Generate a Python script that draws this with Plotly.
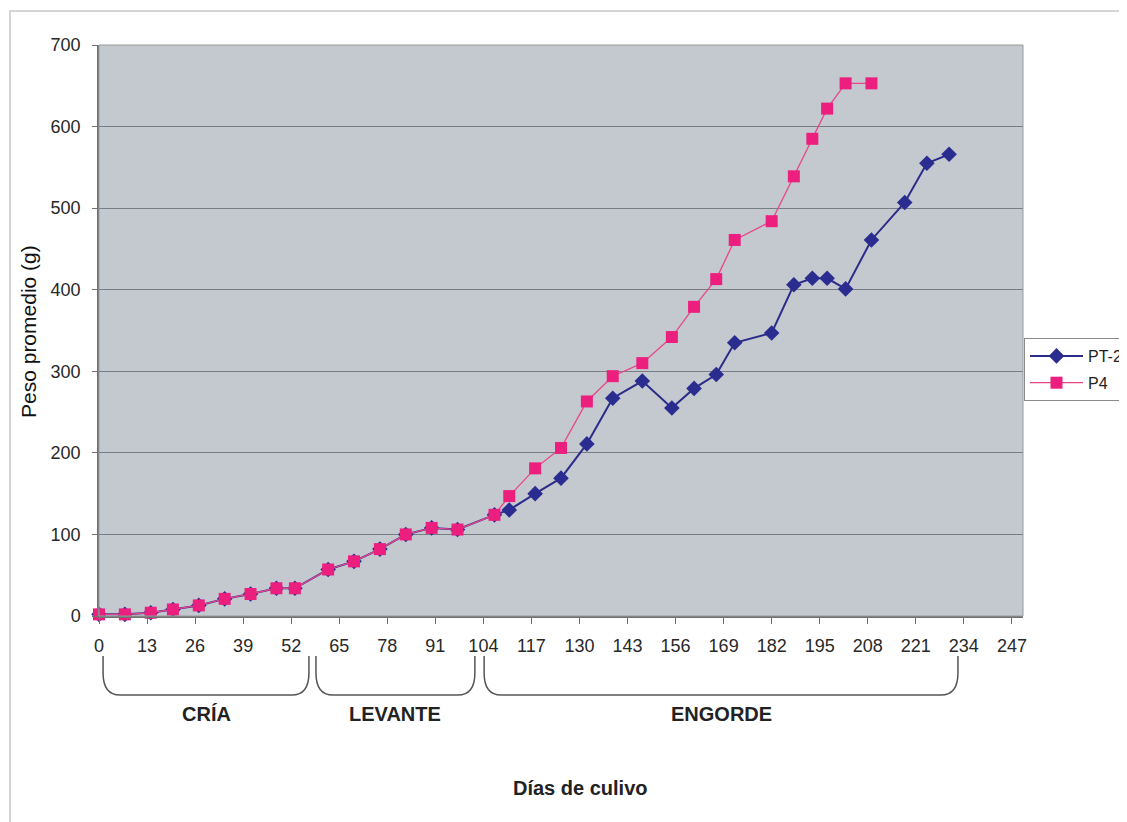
import plotly.graph_objects as go

# ---------------- data ----------------
dias_p4 = [0, 7, 14, 20, 27, 34, 41, 48, 53, 62, 69, 76, 83, 90, 97, 107, 111, 118, 125,
           132, 139, 147, 155, 161, 167, 172, 182, 188, 193, 197, 202, 209]
peso_p4 = [2, 2, 4, 8, 13, 21, 27, 34, 34, 57, 67, 82, 100, 108, 106, 124, 147, 181, 206,
           263, 294, 310, 342, 379, 413, 461, 484, 539, 585, 622, 653, 653]

dias_pt2 = [0, 7, 14, 20, 27, 34, 41, 48, 53, 62, 69, 76, 83, 90, 97, 107, 111, 118, 125,
            132, 139, 147, 155, 161, 167, 172, 182, 188, 193, 197, 202, 209, 218, 224, 230]
peso_pt2 = [2, 2, 4, 8, 13, 21, 27, 34, 34, 57, 67, 82, 100, 108, 106, 124, 130, 150, 169,
            211, 267, 288, 255, 279, 296, 335, 347, 406, 414, 414, 401, 461, 507, 555, 566]

x_ticks = list(range(0, 248, 13))
y_ticks = list(range(0, 701, 100))

fases = ["CRÍA", "LEVANTE", "ENGORDE"]
fase_inicio = [1.1, 58.7, 104.2]
fase_fin = [56.8, 101.7, 232.4]

# ---------------- figure ----------------
OFF = 8  # page body margin offset
W, H = 1127 - OFF, 822 - OFF
L, R, T, B = 99 - OFF, 104, 45 - OFF, 206
pw = W - L - R
ph = H - T - B


def py(pix):
    """screen pixel y -> paper y"""
    return (H - B - (pix - OFF)) / ph


def px(pix):
    """screen pixel x -> paper x"""
    return ((pix - OFF) - L) / pw


fig = go.Figure()

fig.add_trace(go.Scatter(
    x=dias_pt2, y=peso_pt2, name="PT-2", mode="lines+markers",
    line=dict(color="#2b2c8a", width=2),
    marker=dict(symbol="diamond", size=12, color="#2b2c8f"),
    cliponaxis=False, legendgroup="a",
))
fig.add_trace(go.Scatter(
    x=dias_p4, y=peso_p4, name="P4", mode="lines+markers",
    line=dict(color="#e8468a", width=1.3),
    marker=dict(symbol="square", size=12, color="#ec1f7f"),
    cliponaxis=False, legendgroup="b",
))

shapes = []
# outer chart frame
shapes.append(dict(type="rect", xref="paper", yref="paper",
                   x0=px(10), x1=1.3, y0=-0.6, y1=py(11),
                   line=dict(color="#c8c8c8", width=1.5), fillcolor="rgba(0,0,0,0)",
                   layer="below"))

# phase brackets
top = py(656)
curve = py(673)
bot = py(695)
r = 17 / pw * 250
for a, b in zip(fase_inicio, fase_fin):
    path = (f"M {a},{top} L {a},{curve} Q {a},{bot} {a + r},{bot} "
            f"L {b - r},{bot} Q {b},{bot} {b},{curve} L {b},{top}")
    shapes.append(dict(type="path", xref="x", yref="paper", path=path,
                       line=dict(color="#555555", width=1.5)))

annotations = []
for name, a, b in zip(fases, fase_inicio, fase_fin):
    annotations.append(dict(x=(a + b) / 2, y=py(714), xref="x", yref="paper",
                            xanchor="center", yanchor="middle",
                            text=f"<b>{name}</b>", showarrow=False,
                            font=dict(family="Liberation Sans, Arial", size=20, color="#222")))

annotations.append(dict(x=px(580), y=py(788), xref="paper", yref="paper",
                        xanchor="center", yanchor="middle",
                        text="<b>Días de culivo</b>", showarrow=False,
                        font=dict(family="Liberation Sans, Arial", size=20, color="#222")))
annotations.append(dict(x=px(28), y=py(332), xref="paper", yref="paper",
                        xanchor="center", yanchor="middle",
                        text="Peso promedio (g)", showarrow=False, textangle=-90,
                        font=dict(family="Liberation Sans, Arial", size=21, color="#111")))

fig.update_layout(
    width=W, height=H,
    margin=dict(l=L, r=R, t=T, b=B, autoexpand=False),
    paper_bgcolor="#ffffff",
    plot_bgcolor="#c4c9d0",
    font=dict(family="Liberation Sans, Arial", size=18, color="#222"),
    showlegend=True,
    legend=dict(x=px(1024), y=py(338), xanchor="left", yanchor="top",
                bgcolor="#ffffff", bordercolor="#8a8a8a", borderwidth=1,
                itemwidth=53, tracegroupgap=3,
                font=dict(size=16, color="#222")),
    shapes=shapes,
    annotations=annotations,
    xaxis=dict(range=[0, 250], tickvals=x_ticks, ticktext=[str(v) for v in x_ticks],
               showgrid=False, zeroline=False, showline=True, linecolor="#707070",
               linewidth=1.5, mirror=False, ticks="outside", ticklen=6, tickcolor="#707070",
               ticklabelstandoff=7, tickfont=dict(size=18, color="#282828")),
    yaxis=dict(range=[0, 700], tickvals=y_ticks, showgrid=True, gridcolor="#787d85",
               gridwidth=1, zeroline=False, showline=True, linecolor="#707070",
               linewidth=1.5, ticks="outside", ticklen=5, tickcolor="#707070",
               ticklabelstandoff=8, tickfont=dict(size=18, color="#282828")),
)

# thin plot-area frame (top/right edges)
fig.add_shape(type="rect", xref="paper", yref="paper", x0=0, x1=1, y0=0, y1=1,
              line=dict(color="#9a9a9a", width=1), fillcolor="rgba(0,0,0,0)")

fig.write_html("out.html")
